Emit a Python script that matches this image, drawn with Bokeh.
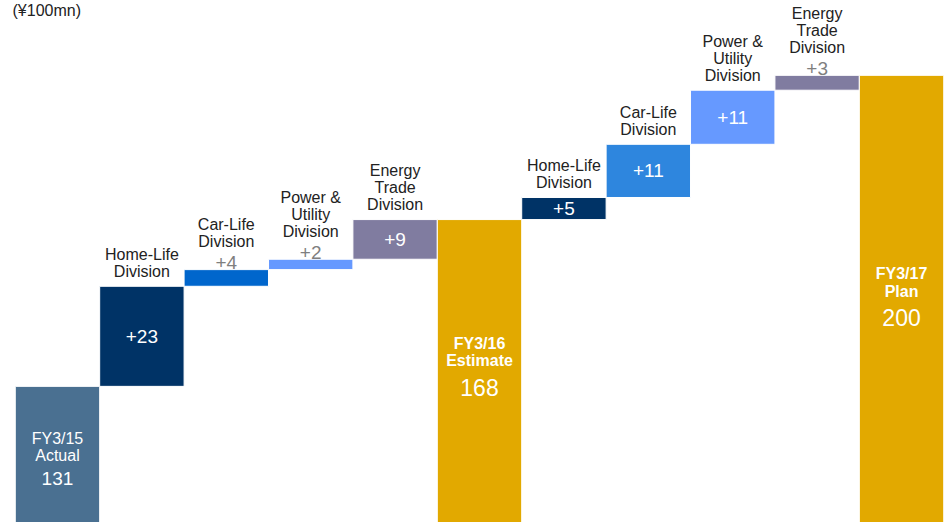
import numpy as np
from bokeh.plotting import figure
from bokeh.models import Range1d, Label, ColumnDataSource
from bokeh.core.properties import value
from bokeh.embed import file_html
from bokeh.resources import INLINE

# ---------------- data ----------------
total_names = [["FY3/15", "Actual"], ["FY3/16", "Estimate"], ["FY3/17", "Plan"]]
total_values = [131, 168, 200]
total_labels = ["131", "168", "200"]

division_names = [["Home-Life", "Division"], ["Car-Life", "Division"],
                  ["Power &", "Utility", "Division"], ["Energy", "Trade", "Division"]]
deltas_fy16 = [22.2, 3.7, 2.3, 8.8]
deltas_fy17 = [4.9, 11.8, 12.0, 3.3]
delta_labels_fy16 = ["+23", "+4", "+2", "+9"]
delta_labels_fy17 = ["+5", "+11", "+11", "+3"]
unit_label = "(¥100mn)"

# ---------------- style ----------------
W, H = 950, 522
Y0, Y1 = 100.8, 216.6
X0, X1 = -0.675, 10.58
yscale = H / (Y1 - Y0)
FONT = "Liberation Sans"
total_colors = ["#4A7091", "#E2A900", "#E2A900"]
div_colors_fy16 = ["#003366", "#0066CC", "#6699FF", "#807CA0"]
div_colors_fy17 = ["#003366", "#2E86DE", "#6699FF", "#807CA0"]
name_color = "#222222"
gray_value = "#7F7F7F"

p = figure(width=W, height=H, x_range=Range1d(X0, X1), y_range=Range1d(Y0, Y1),
           output_backend="svg", toolbar_location=None, min_border=0)
p.axis.visible = False
p.grid.visible = False
p.outline_line_color = None
p.background_fill_color = "white"

# build bars
xs, bottoms, tops, colors = [], [], [], []
div_bars = []  # (x, bottom, top, names, label)
xi = 0
for seg in range(3):
    xs.append(xi); bottoms.append(0); tops.append(total_values[seg]); colors.append(total_colors[seg])
    xi += 1
    if seg < 2:
        deltas = deltas_fy16 if seg == 0 else deltas_fy17
        labs = delta_labels_fy16 if seg == 0 else delta_labels_fy17
        cols = div_colors_fy16 if seg == 0 else div_colors_fy17
        level = total_values[seg]
        for k, d in enumerate(deltas):
            xs.append(xi); bottoms.append(level); tops.append(level + d); colors.append(cols[k])
            div_bars.append((xi, level, level + d, division_names[k], labs[k]))
            level += d
            xi += 1

src = ColumnDataSource(dict(x=xs, bottom=bottoms, top=tops, color=colors))
p.vbar(x="x", bottom="bottom", top="top", width=1.0, fill_color="color",
       line_color="white", line_width=1, source=src)

def put(x, y, text, size, color, bold=False):
    p.text(x=[x], y=[y], text=[text], text_font=value(FONT), text_font_size=size,
           text_color=color, text_align="center", text_baseline="middle",
           text_font_style="bold" if bold else "normal")

# division labels
for (x, b, t, names, lab) in div_bars:
    hpx = (t - b) * yscale
    if hpx < 20:
        put(x, t + 7 / yscale, lab, "19px", gray_value)
        base = 28
    else:
        put(x, (b + t) / 2, lab, "19px", "white")
        base = 15
    for j, line in enumerate(reversed(names)):
        put(x, t + (base + 17 * j) / yscale, line, "16px", name_color)

# total labels (pixel offsets below bar top)
total_offsets = [(52, 69, 92), (124, 141, 168), (198, 216, 242)]
total_bold = [False, True, True]
total_num_size = ["19px", "23px", "23px"]
total_x = [0, 5, 10]
for i in range(3):
    o = total_offsets[i]
    t = total_values[i]
    put(total_x[i], t - o[0] / yscale, total_names[i][0], "16px", "white", total_bold[i])
    put(total_x[i], t - o[1] / yscale, total_names[i][1], "16px", "white", total_bold[i])
    put(total_x[i], t - o[2] / yscale, total_labels[i], total_num_size[i], "white")

p.add_layout(Label(x=12, y=H - 1, x_units="screen", y_units="screen", text=unit_label,
                   text_font=FONT, text_font_size="16px", text_color=name_color,
                   text_baseline="top"))

open("out.html", "w").write(file_html(p, INLINE))
